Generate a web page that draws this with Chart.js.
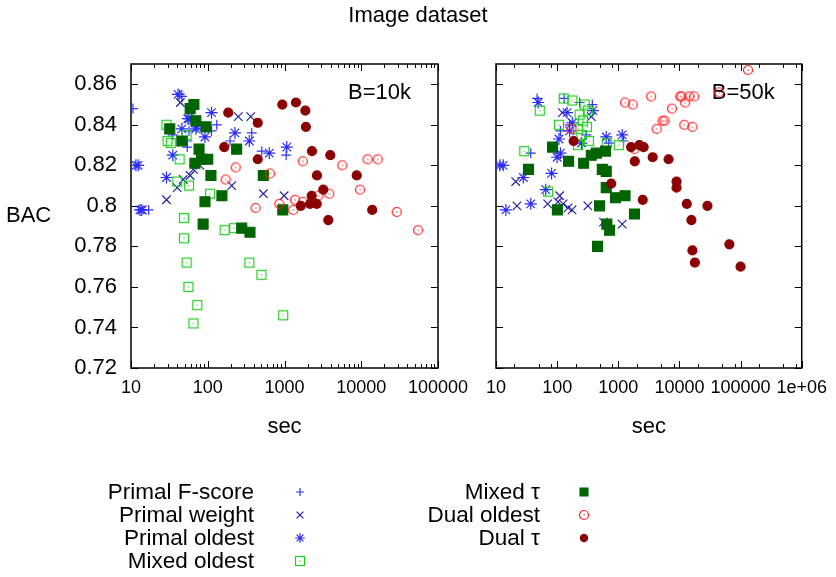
<!DOCTYPE html>
<html>
<head>
<meta charset="utf-8">
<script src="https://cdn.jsdelivr.net/npm/chart.js@4/dist/chart.umd.min.js"></script>
<style>
  body { margin: 0; background: #fff; }
  #wrap { position: relative; width: 836px; height: 577px; background: #fff; font-family: 'Liberation Sans', Arial, sans-serif; color: #000; }
  #wrap canvas.panel { position: absolute; left: 0; top: 0; }
  .txt { position: absolute; font-size: 22px; line-height: 26px; white-space: nowrap; }
  .lgtext { position: absolute; font-size: 22.5px; line-height: 24px; text-align: right; white-space: nowrap; }
  .lgsym { position: absolute; width: 20px; height: 20px; }
</style>
</head>
<body>
<div id="wrap">
  <canvas id="left" class="panel" width="836" height="577"></canvas>
  <canvas id="right" class="panel" width="836" height="577"></canvas>
  <div class="txt" style="left:0;width:836px;text-align:center;top:2px;">Image dataset</div>
  <div class="txt" style="left:6px;top:202px;">BAC</div>
  <div id="legend"></div>
</div>
<script>
// series names and panel labels
var seriesNames = ['Primal F-score', 'Primal weight', 'Primal oldest', 'Mixed oldest', 'Mixed \u03c4', 'Dual oldest', 'Dual \u03c4'];
var panelLabels = ['B=10k', 'B=50k'];
var yTicks = [0.72, 0.74, 0.76, 0.78, 0.8, 0.82, 0.84, 0.86];

// B=10k  [sec, BAC]
var fscore10 = [[10.6,0.848],[46,0.854],[43,0.855],[131,0.840],[112,0.837],[35,0.835],[54,0.829],[54,0.832],[57,0.837],[195,0.832],[374,0.836],[505,0.827],[1050,0.825],[17,0.798]];
var weight10 = [[44,0.851],[250,0.844],[363,0.844],[205,0.810],[530,0.806],[990,0.805],[40,0.809],[29,0.803],[48,0.813],[59,0.815],[65,0.818],[79,0.820],[14,0.798]];
var oldest10 = [[41,0.855],[55,0.843],[57,0.843],[72,0.839],[70,0.838],[92,0.834],[112,0.846],[226,0.836],[348,0.832],[634,0.826],[1070,0.829],[11.6,0.820],[12.4,0.820],[29,0.814],[35,0.825],[46,0.838],[13.8,0.798],[13.1,0.798]];
var mixOld10 = [[29,0.840],[30,0.832],[33,0.831],[53,0.835],[43,0.823],[40,0.812],[57,0.810],[107,0.806],[49,0.794],[49,0.784],[53,0.772],[56,0.760],[73,0.751],[65,0.742],[166,0.788],[220,0.789],[348,0.772],[500,0.766],[960,0.746]];
var mixTau10 = [[59,0.848],[66,0.850],[32,0.838],[46,0.832],[70,0.842],[95,0.839],[77,0.828],[68,0.821],[83,0.823],[100,0.823],[110,0.815],[153,0.805],[92,0.802],[238,0.828],[530,0.815],[950,0.798],[87,0.791],[277,0.789],[355,0.787]];
var dualOld10 = [[231,0.819],[171,0.813],[421,0.799],[647,0.816],[855,0.801],[1730,0.822],[1370,0.803],[1730,0.802],[1300,0.798],[2760,0.805],[3830,0.806],[5660,0.820],[9640,0.808],[12100,0.823],[16400,0.823],[29000,0.797],[55000,0.788]];
var dualTau10 = [[185,0.846],[164,0.829],[448,0.841],[448,0.823],[936,0.850],[1410,0.851],[1870,0.847],[1900,0.839],[2280,0.827],[3950,0.825],[2650,0.815],[8730,0.815],[3200,0.808],[2260,0.805],[2630,0.801],[2150,0.801],[1630,0.800],[13900,0.798],[3720,0.793]];

// B=50k  [sec, BAC]
var fscore50 = [[47,0.853],[130,0.853],[233,0.851],[376,0.850],[113,0.837],[37,0.826],[1220,0.832],[300,0.835],[160,0.840],[700,0.831]];
var weight50 = [[22,0.800],[70,0.801],[103,0.802],[125,0.801],[151,0.799],[175,0.798],[318,0.800],[574,0.792],[1160,0.791],[21,0.812],[122,0.846],[362,0.844],[110,0.805]];
var oldest50 = [[49,0.851],[145,0.846],[384,0.847],[177,0.841],[107,0.833],[113,0.826],[100,0.824],[81,0.816],[28,0.814],[11.6,0.820],[13.1,0.820],[65,0.808],[37,0.801],[14.5,0.798],[635,0.834],[1160,0.835],[160,0.837],[249,0.831]];
var mixOld50 = [[128,0.853],[177,0.852],[282,0.850],[318,0.847],[233,0.845],[52,0.847],[107,0.840],[219,0.838],[307,0.839],[249,0.835],[331,0.832],[219,0.830],[650,0.831],[1020,0.830],[29,0.827],[71,0.807],[264,0.842]];
var mixTau50 = [[84,0.829],[154,0.822],[271,0.821],[362,0.825],[437,0.826],[619,0.827],[34,0.818],[547,0.818],[635,0.817],[635,0.809],[900,0.804],[1290,0.805],[494,0.800],[1840,0.796],[101,0.798],[650,0.791],[719,0.788],[458,0.780]];
var dualOld50 = [[171,0.838],[1290,0.851],[1720,0.850],[1840,0.828],[3440,0.854],[10300,0.854],[10800,0.854],[12400,0.851],[14500,0.854],[17400,0.854],[7550,0.848],[5310,0.842],[5720,0.842],[4240,0.838],[12000,0.840],[16300,0.839],[132000,0.867],[44500,0.856]];
var dualTau50 = [[186,0.832],[766,0.811],[1620,0.829],[2210,0.830],[2600,0.829],[1860,0.822],[3650,0.824],[6640,0.823],[8970,0.812],[8970,0.809],[2510,0.803],[13200,0.801],[28700,0.800],[15700,0.793],[16300,0.778],[17900,0.772],[65500,0.781],[100000,0.770]];

// small images for the open square / open circle with a dot
function markImg(kind, color) {
  var c = document.createElement('canvas');
  c.width = 12; c.height = 12;
  var g = c.getContext('2d');
  g.strokeStyle = color; g.fillStyle = color; g.lineWidth = 1.2;
  if (kind == 'box') g.strokeRect(1.5, 1.5, 9, 9);
  else { g.beginPath(); g.arc(6, 6, 4.5, 0, Math.PI * 2); g.stroke(); }
  g.fillRect(5.5, 5.5, 1.2, 1.2);
  return c;
}

var styles = [
  { pointStyle: 'cross', radius: 5, color: '#3333ff', fill: false },
  { pointStyle: 'crossRot', radius: 6, color: '#22229a', fill: false },
  { pointStyle: 'star', radius: 6, color: '#2a2aff', fill: false },
  { pointStyle: markImg('box', '#22cc22'), radius: 6, color: '#22cc22', fill: false },
  { pointStyle: 'rect', radius: 7, color: '#006400', fill: true },
  { pointStyle: markImg('circ', '#ff2222'), radius: 6, color: '#ff2222', fill: false },
  { pointStyle: 'circle', radius: 4.5, color: '#8b0000', fill: true }
];

function toXY(arr) {
  return arr.map(function(p) { return { x: p[0], y: p[1] }; });
}

function makeSets(list) {
  return list.map(function(arr, i) {
    var s = styles[i];
    return {
      label: seriesNames[i],
      data: toXY(arr),
      pointStyle: s.pointStyle,
      pointRadius: s.radius,
      pointBorderWidth: 1.2,
      pointBorderColor: s.color,
      pointBackgroundColor: s.fill ? s.color : 'rgba(0,0,0,0)',
      showLine: false,
      order: list.length - i
    };
  });
}

// gnuplot-like frame with inward ticks
var framePlugin = {
  id: 'frame',
  beforeDatasetsDraw: function(chart, args, opts) {
    var ctx = chart.ctx, a = chart.chartArea;
    var xs = chart.scales.x, ys = chart.scales.y;
    ctx.save();
    ctx.strokeStyle = '#000';
    ctx.lineWidth = 1;
    ctx.beginPath();
    yTicks.forEach(function(v) {
      var py = Math.round(ys.getPixelForValue(v)) + 0.5;
      ctx.moveTo(a.left, py); ctx.lineTo(a.left + 7, py);
      ctx.moveTo(a.right, py); ctx.lineTo(a.right - 7, py);
    });
    for (var d = 10; d <= xs.max; d *= 10) {
      var px = Math.round(xs.getPixelForValue(d)) + 0.5;
      ctx.moveTo(px, a.bottom); ctx.lineTo(px, a.bottom - 7);
      ctx.moveTo(px, a.top); ctx.lineTo(px, a.top + 7);
      if (d < xs.max) {
        opts.minor.forEach(function(m) {
          var qx = Math.round(xs.getPixelForValue(d * m)) + 0.5;
          ctx.moveTo(qx, a.bottom); ctx.lineTo(qx, a.bottom - 4);
          ctx.moveTo(qx, a.top); ctx.lineTo(qx, a.top + 4);
        });
      }
    }
    ctx.stroke();
    ctx.lineWidth = 1.5;
    ctx.strokeRect(a.left, a.top, a.right - a.left, a.bottom - a.top);
    ctx.font = '22px "Liberation Sans", Arial, sans-serif';
    ctx.fillStyle = '#000';
    ctx.textAlign = 'right';
    ctx.textBaseline = 'middle';
    ctx.fillText(opts.label, a.right - opts.labelInset, a.top + 29);
    ctx.restore();
  }
};

function makePanel(id, list, xmax, minor, showY, padLeft, yWidth, padRight, label, labelInset) {
  return new Chart(document.getElementById(id), {
    type: 'scatter',
    data: { datasets: makeSets(list) },
    plugins: [framePlugin],
    options: {
      responsive: false,
      animation: false,
      events: [],
      layout: { padding: { left: padLeft, right: padRight, top: 64, bottom: 129 } },
      plugins: {
        legend: { display: false },
        tooltip: { enabled: false },
        frame: { minor: minor, label: label, labelInset: labelInset }
      },
      scales: {
        x: {
          type: 'logarithmic',
          min: 10,
          max: xmax,
          grid: { display: false, drawTicks: false },
          border: { display: false },
          afterBuildTicks: function(scale) {
            var t = [];
            for (var d = 10; d <= xmax; d *= 10) t.push({ value: d });
            scale.ticks = t;
          },
          afterFit: function(scale) { scale.height = 80; },
          ticks: {
            autoSkip: false,
            maxRotation: 0,
            padding: 9,
            color: '#000',
            font: { family: '"Liberation Sans", Arial, sans-serif', size: 18 },
            callback: function(v) { return v >= 1e6 ? '1e+06' : String(v); }
          },
          title: {
            display: true,
            text: 'sec',
            color: '#000',
            padding: { top: 0, bottom: 8 },
            font: { family: '"Liberation Sans", Arial, sans-serif', size: 22 }
          }
        },
        y: {
          min: 0.72,
          max: 0.87,
          grid: { display: false, drawTicks: false },
          border: { display: false },
          afterBuildTicks: function(scale) {
            scale.ticks = yTicks.map(function(v) { return { value: v }; });
          },
          afterFit: function(scale) { scale.width = yWidth; },
          ticks: {
            display: showY,
            padding: 14,
            color: '#000',
            font: { family: '"Liberation Sans", Arial, sans-serif', size: 22 },
            callback: function(v) { return v === 0.8 ? '0.8' : v.toFixed(2); }
          }
        }
      }
    }
  });
}

makePanel('left', [fscore10, weight10, oldest10, mixOld10, mixTau10, dualOld10, dualTau10],
  100000, [2, 3, 4, 5, 6, 7, 8, 9], true, 0, 131, 398, panelLabels[0], 27);
makePanel('right', [fscore50, weight50, oldest50, mixOld50, mixTau50, dualOld50, dualTau50],
  1000000, [2, 5, 8], false, 0, 496, 33, panelLabels[1], 27);

// legend: text right-aligned, symbol to its right (two columns)
var lg = document.getElementById('legend');
var rowY = [492, 515, 538, 561];
seriesNames.forEach(function(name, i) {
  var col = i < 4 ? 0 : 1;
  var row = i < 4 ? i : i - 4;
  var textRight = col == 0 ? 254 : 540;
  var symX = col == 0 ? 300 : 584;
  var t = document.createElement('div');
  t.className = 'lgtext';
  t.style.left = (textRight - 300) + 'px';
  t.style.width = '300px';
  t.style.top = (rowY[row] - 12) + 'px';
  t.textContent = name;
  lg.appendChild(t);
  var c = document.createElement('canvas');
  c.className = 'lgsym';
  c.width = 20; c.height = 20;
  c.style.left = (symX - 10) + 'px';
  c.style.top = (rowY[row] - 10) + 'px';
  lg.appendChild(c);
  var g = c.getContext('2d');
  var s = styles[i];
  g.strokeStyle = s.color;
  g.fillStyle = s.color;
  g.lineWidth = 1.2;
  Chart.helpers.drawPoint(g, { pointStyle: s.pointStyle, radius: s.radius * 0.8, borderWidth: 1.2, rotation: 0 }, 10, 10);
});
</script>
</body>
</html>
